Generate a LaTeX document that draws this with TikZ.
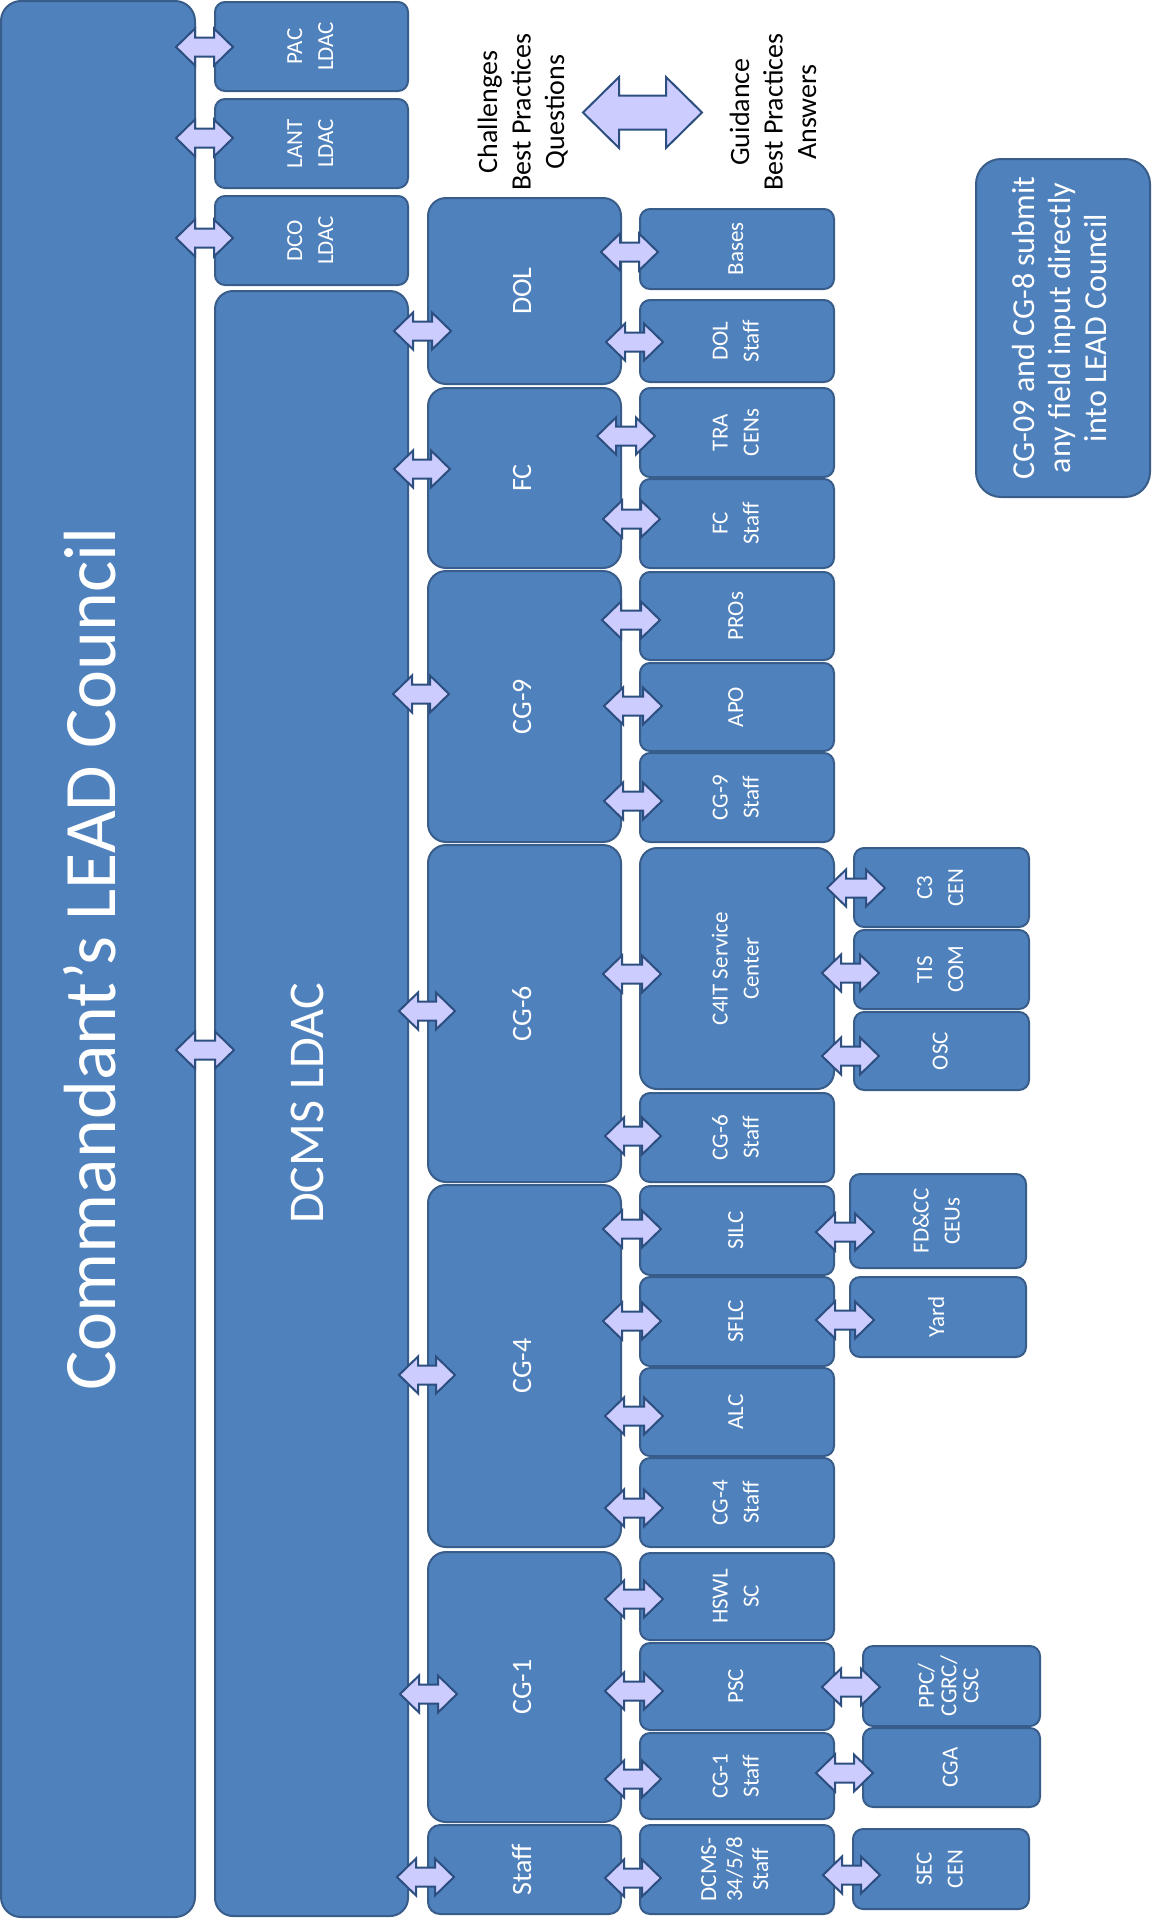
\documentclass[tikz,border=0pt]{standalone}
\usepackage{fontspec}
\setmainfont{Carlito}
\usepackage{graphicx}
\definecolor{boxfill}{HTML}{4F81BD}
\definecolor{boxline}{HTML}{385D8A}
\definecolor{arrfill}{HTML}{CCCCFF}
\definecolor{arrline}{HTML}{2C4F80}
\newcommand\fA{\fontsize{23}{31}\selectfont}
\newcommand\fB{\fontsize{28}{33}\selectfont}
\newcommand\fC{\fontsize{23}{26}\selectfont}
\newcommand\fD{\fontsize{23}{22}\selectfont}
\newcommand\fH{\fontsize{28}{33.5}\selectfont}
\newcommand\fN{\fontsize{32}{36}\selectfont}
\newcommand\fL{\fontsize{50}{60}\selectfont}
\newcommand\fX{\fontsize{74}{88}\selectfont}
% name, x1, y1, x2, y2, radius, font, text
\newcommand\bx[8]{%
  \node[box,rounded corners=#6pt,minimum width=#4pt-#2pt,minimum height=#5pt-#3pt]
    (#1) at ({(#2+#4)/2},{(#3+#5)/2})
    {#7\rotatebox{90}{\begin{tabular}{@{}c@{}}#8\end{tabular}}};}
% left tip x, right tip x, y, head length, head half height, shaft half height
\newcommand\barrowfull[6]{%
  \draw[arr] (#1,#3) -- ({#1+#4},{#3-#5}) -- ({#1+#4},{#3-#6}) -- ({#2-#4},{#3-#6})
    -- ({#2-#4},{#3-#5}) -- (#2,#3) -- ({#2-#4},{#3+#5}) -- ({#2-#4},{#3+#6})
    -- ({#1+#4},{#3+#6}) -- ({#1+#4},{#3+#5}) -- cycle;}
\newcommand\barrow[3]{\barrowfull{#1}{#2}{#3}{19}{18.5}{9.5}}
\begin{document}
\begin{tikzpicture}[x=1pt,y=-1pt,
  box/.style={draw=boxline,fill=boxfill,line width=2pt,text=white,inner sep=0pt,outer sep=0pt},
  arr/.style={draw=arrline,fill=arrfill,line width=2pt,line join=miter},
  hdr/.style={inner sep=0pt,text=black}]
\useasboundingbox (0,0) rectangle (1153,1920);
% column 1 and 2
\bx{cmd}{1}{1}{195}{1917}{20}{\fX}{Commandant’s LEAD Council}
\bx{pac}{215}{2}{408}{91}{10}{\fA}{PAC\\LDAC}
\bx{lant}{215}{99}{408}{188}{10}{\fA}{LANT\\LDAC}
\bx{dco}{215}{196}{408}{285}{10}{\fA}{DCO\\LDAC}
\bx{dcms}{215}{291}{408}{1916}{18}{\fL}{DCMS LDAC}
% column 3
\bx{dol}{428}{198}{621}{384}{18}{\fB}{DOL}
\bx{fc}{428}{388}{621}{568}{18}{\fB}{FC}
\bx{cg9}{428}{571}{621}{842}{18}{\fB}{CG-9}
\bx{cg6}{428}{845}{621}{1182}{18}{\fB}{CG-6}
\bx{cg4}{428}{1185}{621}{1547}{18}{\fB}{CG-4}
\bx{cg1}{428}{1552}{621}{1822}{18}{\fB}{CG-1}
\bx{staff}{428}{1825}{621}{1914}{12}{\fB}{Staff}
% column 4
\bx{bases}{640}{209}{834}{289}{10}{\fA}{Bases}
\bx{dolstaff}{640}{300}{834}{382}{10}{\fA}{DOL\\Staff}
\bx{tra}{640}{388}{834}{477}{10}{\fA}{TRA\\CENs}
\bx{fcstaff}{640}{479}{834}{568}{10}{\fA}{FC\\Staff}
\bx{pros}{640}{572}{834}{660}{10}{\fA}{PROs}
\bx{apo}{640}{663}{834}{751}{10}{\fA}{APO}
\bx{cg9staff}{640}{753}{834}{842}{10}{\fA}{CG-9\\Staff}
\bx{c4it}{640}{848}{834}{1089}{17}{\fA}{C4IT Service\\Center}
\bx{cg6staff}{640}{1093}{834}{1182}{10}{\fA}{CG-6\\Staff}
\bx{silc}{640}{1186}{834}{1275}{10}{\fA}{SILC}
\bx{sflc}{640}{1277}{834}{1366}{10}{\fA}{SFLC}
\bx{alc}{640}{1368}{834}{1456}{10}{\fA}{ALC}
\bx{cg4staff}{640}{1458}{834}{1547}{10}{\fA}{CG-4\\Staff}
\bx{hswl}{640}{1553}{834}{1640}{10}{\fA}{HSWL\\SC}
\bx{psc}{640}{1643}{834}{1730}{10}{\fA}{PSC}
\bx{cg1staff}{640}{1733}{834}{1819}{10}{\fA}{CG-1\\Staff}
\bx{dcmsstaff}{640}{1825}{834}{1914}{10}{\fC}{DCMS-\\34/5/8\\Staff}
% column 5
\bx{c3}{854}{848}{1029}{927}{10}{\fA}{C3\\CEN}
\bx{tis}{854}{930}{1029}{1009}{10}{\fA}{TIS\\COM}
\bx{osc}{854}{1012}{1029}{1090}{10}{\fA}{OSC}
\bx{fdcc}{850}{1174}{1026}{1268}{10}{\fA}{FD\&CC\\CEUs}
\bx{yard}{850}{1277}{1026}{1357}{10}{\fA}{Yard}
\bx{ppc}{863}{1646}{1040}{1726}{10}{\fD}{PPC/\\CGRC/\\CSC}
\bx{cga}{863}{1728}{1040}{1807}{10}{\fA}{CGA}
\bx{sec}{853}{1829}{1029}{1909}{10}{\fA}{SEC\\CEN}
% note
\bx{note}{976}{159}{1150}{497}{25}{\fN}{CG-09 and CG-8 submit\\any field input directly\\into LEAD Council}
% headers
\node[hdr] (chal) at (524,112) {\fH\rotatebox{90}{\begin{tabular}{@{}c@{}}Challenges\\Best Practices\\Questions\end{tabular}}};
\node[hdr] (guid) at (776,112) {\fH\rotatebox{90}{\begin{tabular}{@{}c@{}}Guidance\\Best Practices\\Answers\end{tabular}}};
\barrowfull{583}{702}{112.5}{36}{35.5}{17}
% arrows column 1 -> 2
\barrow{176}{233}{47}
\barrow{176}{233}{138}
\barrow{176}{233}{238}
\barrow{176}{234}{1050}
% arrows column 2 -> 3
\barrow{394}{451}{331}
\barrow{394}{450}{469}
\barrow{393}{449}{694}
\barrow{399}{455}{1011}
\barrow{399}{455}{1375}
\barrow{400}{457}{1694}
\barrow{397}{454}{1877}
% arrows column 3 -> 4
\barrow{601}{658}{252}
\barrow{606}{663}{342}
\barrow{597}{655}{436}
\barrow{603}{660}{519}
\barrow{602}{660}{620}
\barrow{604}{662}{706}
\barrow{604}{662}{801}
\barrow{603}{661}{974}
\barrow{605}{661}{1136}
\barrow{603}{661}{1229}
\barrow{603}{661}{1321}
\barrow{605}{663}{1416}
\barrow{605}{663}{1508}
\barrow{605}{663}{1599}
\barrow{605}{663}{1691}
\barrow{605}{661}{1779}
\barrow{605}{661}{1878}
% arrows column 4 -> 5
\barrow{827}{885}{888}
\barrow{822}{879}{973}
\barrow{822}{879}{1056}
\barrow{816}{874}{1232}
\barrow{816}{874}{1320}
\barrow{822}{880}{1687}
\barrow{816}{873}{1773}
\barrow{823}{880}{1875}
\end{tikzpicture}
\end{document}
